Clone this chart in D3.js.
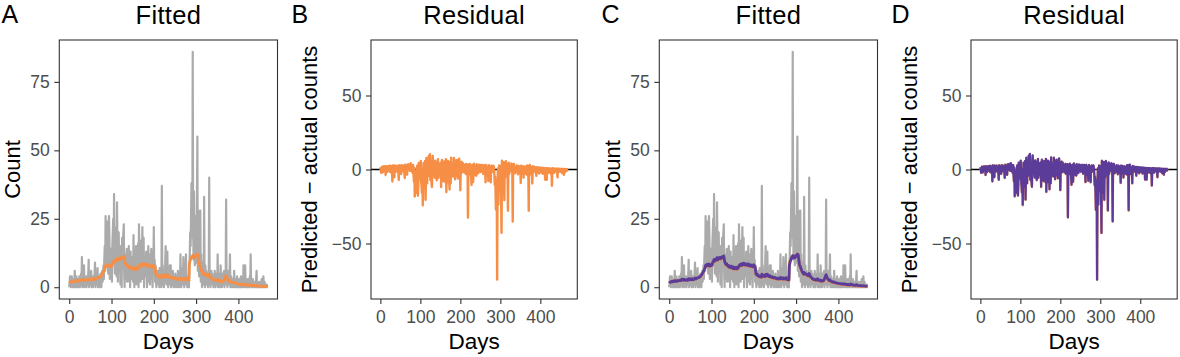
<!DOCTYPE html>
<html>
<head>
<meta charset="utf-8">
<script src="https://cdn.jsdelivr.net/npm/d3@7"></script>
<style>
  html, body { margin: 0; padding: 0; background: #fff; }
  svg { display: block; font-family: "Liberation Sans", Arial, Helvetica, sans-serif; }
</style>
</head>
<body>
<svg id="chart" width="1180" height="357"></svg>
<script>
// ---- data (days 0..469) ----
const xTicks = [0, 100, 200, 300, 400];
const countTicks = [0, 25, 50, 75];
const residTicks = [-50, 0, 50];
const panelLetters = ["A", "B", "C", "D"];
const panelTitles = ["Fitted", "Residual", "Fitted", "Residual"];

const counts = [
 0,2,4,1,0,3,4,1,2,0,
 1,3,0,6,2,0,1,4,2,0,
 3,1,0,2,4,0,1,3,5,2,
 11,0,2,4,1,8,0,3,2,1,
 4,0,2,3,1,5,10,0,2,3,
 1,4,6,0,2,3,0,4,1,2,
 5,9,0,2,3,1,4,7,0,3,
 2,0,4,1,5,5,0,3,6,2,
 4,8,3,10,15,6,26,12,20,9,
 24,15,5,22,26,18,3,10,14,8,
 12,2,16,20,25,9,34,14,5,18,
 10,22,4,31,16,2,12,20,8,6,
 15,1,9,13,0,18,7,11,20,23,
 5,0,12,8,3,10,14,2,6,9,
 4,15,2,8,0,13,5,10,3,11,
 6,2,19,7,0,12,4,9,15,1,
 8,3,11,16,0,23,6,9,17,2,
 10,5,14,22,3,12,18,0,9,11,
 4,7,13,12,0,8,10,15,2,6,
 9,1,12,5,14,3,8,0,11,7,
 22,6,10,2,8,3,0,5,2,4,
 6,1,3,0,7,2,5,4,0,37,
 3,8,1,6,0,4,2,9,15,5,
 1,7,13,3,0,6,2,4,8,1,
 8,0,3,5,1,6,2,0,4,3,
 2,5,0,3,1,4,0,6,2,3,
 0,4,1,12,3,0,5,2,7,1,
 11,3,0,4,2,6,12,1,3,0,
 2,4,1,0,7,12,20,15,25,38,
 30,18,86,22,10,35,14,8,26,12,
 20,9,32,55,6,28,15,4,18,10,
 28,2,12,5,0,9,3,7,1,33,
 4,0,8,2,6,1,3,5,0,2,
 7,40,1,4,0,3,6,2,5,1,
 3,0,4,2,6,1,0,3,5,2,
 1,12,0,3,2,5,0,1,8,2,
 4,0,2,5,1,3,6,0,4,2,
 5,32,1,3,0,6,2,4,1,3,
 12,0,2,4,1,0,3,1,2,0,
 6,1,0,2,3,0,1,4,0,2,
 1,0,3,1,0,2,4,0,1,0,
 2,0,8,1,3,0,8,1,0,2,
 0,1,3,0,2,1,0,4,1,12,
 1,0,2,0,3,1,0,1,2,0,
 1,0,3,6,0,1,2,0,1,0,
 0,2,0,1,0,3,0,1,0,4,
 1,0,2,0,1,0,0,1,0,0
];

const fittedA = [
 1.6,1.7,1.8,1.8,1.9,2.0,2.1,2.0,2.1,2.2,
 2.1,2.2,2.1,2.3,2.4,2.3,2.2,2.3,2.4,2.3,
 2.3,2.2,2.4,2.3,2.4,2.5,2.3,2.4,2.5,2.6,
 2.9,2.8,2.7,2.7,2.6,2.8,2.7,2.6,2.6,2.5,
 2.6,2.5,2.6,2.7,2.6,2.7,3.0,2.9,2.8,2.8,
 2.8,2.9,3.0,2.9,2.8,2.9,2.8,2.9,2.9,2.8,
 3.0,3.3,3.2,3.1,3.2,3.1,3.3,3.5,3.4,3.5,
 3.6,3.5,3.8,3.9,4.1,4.3,4.2,4.5,4.8,5.0,
 5.3,5.6,5.9,6.3,6.8,7.0,7.8,7.6,8.0,7.7,
 8.2,8.0,7.6,7.9,8.3,8.1,7.5,7.6,7.8,7.7,
 8.0,7.8,8.3,8.7,9.2,9.0,9.8,9.6,9.4,9.8,
 9.6,10.1,9.7,10.5,10.3,9.8,10.2,10.6,10.4,10.3,
 10.7,10.2,10.5,10.8,10.4,10.9,10.6,10.8,11.0,11.2,
 10.2,9.2,8.8,8.5,8.1,8.3,8.4,7.9,7.6,7.8,
 7.3,7.7,7.2,7.4,7.0,7.3,7.1,7.5,6.9,7.2,
 6.8,6.6,7.2,7.0,6.5,6.8,6.6,6.9,7.1,6.5,
 6.7,6.5,6.8,7.2,7.0,7.8,7.6,7.9,8.2,7.8,
 8.1,7.7,8.0,8.5,8.1,8.3,8.6,8.0,8.2,8.4,
 8.0,7.9,8.2,8.3,7.8,7.9,8.1,8.3,7.7,7.8,
 7.9,7.5,7.8,7.6,7.9,7.4,7.6,7.3,7.6,7.5,
 8.0,7.6,7.5,7.2,6.0,4.8,4.5,4.3,4.6,4.2,
 4.0,4.1,3.8,3.7,3.9,3.6,3.8,3.7,3.5,4.6,
 4.2,4.3,4.0,4.1,3.8,3.9,3.7,4.0,4.5,4.3,
 4.0,4.2,4.6,4.3,3.9,4.0,3.7,3.8,4.0,3.6,
 3.8,3.5,3.4,3.6,3.3,3.5,3.3,3.2,3.4,3.3,
 3.2,3.3,3.0,3.1,2.9,3.1,2.9,3.0,3.1,2.9,
 2.9,3.0,2.8,3.4,3.2,3.0,3.1,2.9,3.1,2.8,
 3.2,3.1,2.9,2.9,2.8,2.9,3.3,3.0,2.8,2.6,
 2.6,2.5,2.7,2.5,8.5,9.2,9.8,10.2,10.5,11.0,
 11.2,10.8,11.6,11.3,10.9,11.4,11.2,10.8,11.5,11.3,
 11.6,11.4,11.8,12.2,11.9,12.0,10.5,9.0,8.2,7.6,
 7.4,6.8,6.5,6.0,5.6,5.3,5.0,4.8,4.6,5.2,
 4.9,4.6,4.8,4.5,4.6,4.3,4.2,4.4,4.1,4.0,
 4.2,4.8,4.2,4.0,3.7,3.5,3.4,3.2,3.0,2.9,
 2.8,2.7,2.6,2.6,2.7,2.5,2.4,2.4,2.6,2.5,
 2.4,2.9,2.5,2.4,2.3,2.4,2.2,2.1,2.4,2.2,
 2.1,2.0,2.0,2.2,2.1,2.2,2.5,2.8,3.2,3.6,
 3.9,4.2,3.7,3.4,3.0,2.8,2.6,2.5,2.3,2.2,
 2.5,2.2,2.1,2.0,1.9,1.8,1.8,1.7,1.7,1.6,
 1.7,1.6,1.5,1.5,1.4,1.4,1.3,1.3,1.3,1.2,
 1.2,1.2,1.1,1.1,1.1,1.0,1.1,1.0,1.0,1.0,
 1.0,0.9,1.1,1.0,0.9,0.9,1.0,0.9,0.8,0.8,
 0.8,0.8,0.8,0.7,0.8,0.7,0.7,0.8,0.7,1.0,
 0.9,0.8,0.7,0.7,0.7,0.6,0.6,0.6,0.6,0.5,
 0.5,0.5,0.6,0.7,0.6,0.5,0.5,0.5,0.4,0.4,
 0.4,0.4,0.4,0.4,0.3,0.4,0.3,0.3,0.3,0.4,
 0.3,0.3,0.3,0.2,0.2,0.2,0.2,0.2,0.2,0.2
];

const fittedB = [
 1.5,1.7,1.8,1.9,1.9,2.1,2.0,2.1,2.0,2.2,
 2.2,2.1,2.2,2.4,2.3,2.2,2.3,2.4,2.3,2.2,
 2.4,2.3,2.3,2.4,2.5,2.4,2.4,2.5,2.6,2.5,
 3.0,2.8,2.8,2.6,2.7,2.9,2.6,2.7,2.5,2.6,
 2.7,2.6,2.5,2.8,2.7,2.6,3.1,2.8,2.9,2.7,
 2.9,2.8,3.1,2.8,2.9,3.0,2.7,2.8,3.0,2.9,
 3.1,3.4,3.1,3.2,3.1,3.2,3.4,3.4,3.5,3.6,
 3.5,3.7,3.9,3.8,4.2,4.2,4.4,4.6,4.9,5.2,
 5.4,5.8,6.0,6.5,6.9,7.2,8.0,7.7,8.2,7.9,
 8.4,8.1,7.8,8.1,8.5,8.0,7.7,7.8,8.0,7.9,
 8.3,8.0,8.6,9.0,9.5,9.3,10.2,9.9,9.6,10.1,
 9.9,10.4,9.9,10.8,10.5,10.0,10.5,10.8,10.6,10.5,
 10.9,10.4,10.8,11.0,10.6,11.1,10.8,11.0,11.3,11.4,
 10.4,9.5,9.0,8.7,8.3,8.5,8.6,8.1,7.9,8.0,
 7.5,7.9,7.4,7.6,7.2,7.5,7.3,7.7,7.1,7.4,
 7.0,6.8,7.4,7.2,6.7,7.0,6.8,7.1,7.3,6.7,
 6.9,6.7,7.0,7.4,7.2,8.0,7.8,8.1,8.4,8.0,
 8.3,7.9,8.2,8.7,8.3,8.5,8.8,8.2,8.4,8.6,
 8.2,8.1,8.4,8.5,8.0,8.1,8.3,8.5,7.9,8.0,
 8.1,7.7,8.0,7.8,8.1,7.6,7.8,7.5,7.8,7.7,
 8.2,7.8,7.7,7.4,6.2,5.0,4.7,4.5,4.8,4.4,
 4.2,4.3,4.0,3.9,4.1,3.8,4.0,3.9,3.7,4.8,
 4.4,4.5,4.2,4.3,4.0,4.1,3.9,4.2,4.7,4.5,
 4.2,4.4,4.8,4.5,4.1,4.2,3.9,4.0,4.2,3.8,
 4.0,3.7,3.6,3.8,3.5,3.7,3.5,3.4,3.6,3.5,
 3.4,3.5,3.2,3.3,3.1,3.3,3.1,3.2,3.3,3.1,
 3.1,3.2,3.0,3.6,3.4,3.2,3.3,3.1,3.3,3.0,
 3.4,3.3,3.1,3.1,3.0,3.1,3.5,3.2,3.0,2.8,
 2.8,2.7,2.9,2.7,7.8,8.6,9.3,9.8,10.2,10.7,
 11.0,10.6,11.5,11.2,10.8,11.3,11.1,10.7,11.4,11.2,
 11.5,11.3,11.7,12.1,11.8,11.9,10.6,9.2,8.4,7.8,
 7.6,7.0,6.7,6.2,5.8,5.5,5.2,5.0,4.8,5.4,
 5.1,4.8,5.0,4.7,4.8,4.5,4.4,4.6,4.3,4.2,
 4.4,5.0,4.4,4.2,3.9,3.7,3.6,3.4,3.2,3.1,
 3.0,2.9,2.8,2.8,2.9,2.7,2.6,2.6,2.8,2.7,
 2.6,3.1,2.7,2.6,2.5,2.6,2.4,2.3,2.6,2.4,
 2.3,2.2,2.2,2.4,2.3,2.4,2.7,3.0,3.5,3.9,
 4.3,4.6,4.1,3.7,3.3,3.0,2.8,2.7,2.5,2.4,
 2.7,2.4,2.3,2.2,2.1,2.0,2.0,1.9,1.9,1.8,
 1.9,1.8,1.7,1.7,1.6,1.6,1.5,1.5,1.5,1.4,
 1.4,1.4,1.3,1.3,1.3,1.2,1.3,1.2,1.2,1.2,
 1.2,1.1,1.3,1.2,1.1,1.1,1.2,1.1,1.0,1.0,
 1.0,1.0,1.0,0.9,1.0,0.9,0.9,1.0,0.9,1.2,
 1.1,1.0,0.9,0.9,0.9,0.8,0.8,0.8,0.8,0.7,
 0.7,0.7,0.8,0.9,0.8,0.7,0.7,0.7,0.6,0.6,
 0.6,0.6,0.6,0.6,0.5,0.6,0.5,0.5,0.5,0.6,
 0.5,0.5,0.5,0.4,0.4,0.4,0.4,0.4,0.4,0.4
];

// ---- styles ----
const GRAY = "#ABABAB", ORANGE = "#F68E45", PURPLE = "#5B3C99";
const FRAME = "#333333", TICKTXT = "#4D4D4D";

const days = counts.map((_, i) => i);
const residA = fittedA.map((f, i) => f - counts[i]);
const residB = fittedB.map((f, i) => f - counts[i]);

const svg = d3.select("#chart");
const yTop = 40, yBottom = 299;
const xMax = days[days.length - 1];
const xPad = xMax * 0.05;
const cMax = d3.max(counts);
const cPad = cMax * 0.05;

const panels = [
  { left: 59.3, right: 277.5, off: 0,   kind: "fit",   fits: [fittedA] },
  { left: 371,  right: 577.3, off: 290, kind: "resid", res: [residA] },
  { left: 659.3,right: 877.5, off: 600, kind: "fit",   fits: [fittedA, fittedB] },
  { left: 971,  right: 1177.2,off: 890, kind: "resid", res: [residA, residB] }
];
const lineColors = [ORANGE, PURPLE];

panels.forEach((p, k) => {
  const g = svg.append("g");
  const x = d3.scaleLinear().domain([-xPad, xMax + xPad]).range([p.left, p.right]);
  const y = p.kind === "fit"
    ? d3.scaleLinear().domain([-cPad, cMax + cPad]).range([yBottom, yTop])
    : d3.scaleLinear().domain([-87.5, 87.5]).range([yBottom, yTop]);

  const line = d3.line().x((d, i) => x(days[i])).y(d => y(d));

  if (p.kind === "fit") {
    g.append("path").datum(counts).attr("d", line)
      .attr("fill", "none").attr("stroke", GRAY).attr("stroke-width", 2.2)
      .attr("stroke-linejoin", "round");
    p.fits.forEach((f, j) => {
      g.append("path").datum(f).attr("d", line)
        .attr("fill", "none").attr("stroke", lineColors[j])
        .attr("stroke-width", j === 0 ? 2.8 : 2.8).attr("stroke-linejoin", "round");
    });
  } else {
    g.append("line").attr("x1", p.left).attr("x2", p.right)
      .attr("y1", y(0)).attr("y2", y(0)).attr("stroke", "#000").attr("stroke-width", 1.4);
    p.res.forEach((r, j) => {
      g.append("path").datum(r).attr("d", line)
        .attr("fill", "none").attr("stroke", lineColors[j])
        .attr("stroke-width", j === 0 ? 2.4 : 2.2).attr("stroke-linejoin", "round");
    });
  }

  // frame
  g.append("rect").attr("x", p.left).attr("y", yTop)
    .attr("width", p.right - p.left).attr("height", yBottom - yTop)
    .attr("fill", "none").attr("stroke", FRAME).attr("stroke-width", 1.1);

  // axes
  const ax = g.append("g").attr("transform", `translate(0,${yBottom})`)
    .call(d3.axisBottom(x).tickValues(xTicks).tickSize(5).tickPadding(6.5).tickFormat(d3.format("d")));
  const ay = g.append("g").attr("transform", `translate(${p.left},0)`)
    .call(d3.axisLeft(y).tickValues(p.kind === "fit" ? countTicks : residTicks)
      .tickSize(5).tickPadding(4.5).tickFormat(d => d < 0 ? "\u2212" + Math.abs(d) : d));
  [ax, ay].forEach(a => {
    a.select(".domain").remove();
    a.selectAll(".tick line").attr("stroke", FRAME).attr("stroke-width", 1.1);
    a.selectAll(".tick text").attr("fill", TICKTXT)
      .style("font-size", "17.5px").style("font-family", "Liberation Sans, Arial, sans-serif");
  });

  const cx = (p.left + p.right) / 2;
  // title
  svg.append("text").attr("x", cx).attr("y", 23.5).attr("text-anchor", "middle")
    .style("font-size", "25.5px").style("letter-spacing", "0.3px")
    .attr("fill", "#000").text(panelTitles[k]);
  // letter
  svg.append("text").attr("x", p.off + 1.5).attr("y", 23)
    .style("font-size", "25px").attr("fill", "#000").text(panelLetters[k]);
  // x title
  svg.append("text").attr("x", cx).attr("y", 349).attr("text-anchor", "middle")
    .style("font-size", "22.5px").attr("fill", "#000").text("Days");
  // y title
  const ylab = p.kind === "fit" ? "Count" : "Predicted \u2212 actual counts";
  const yx = (p.kind === "fit" ? 20 : 316.7 - 290) + p.off;
  svg.append("text").attr("transform", `translate(${yx},${(yTop + yBottom) / 2}) rotate(-90)`)
    .attr("text-anchor", "middle")
    .style("font-size", "22px").attr("fill", "#000").text(ylab);
});
</script>
</body>
</html>
